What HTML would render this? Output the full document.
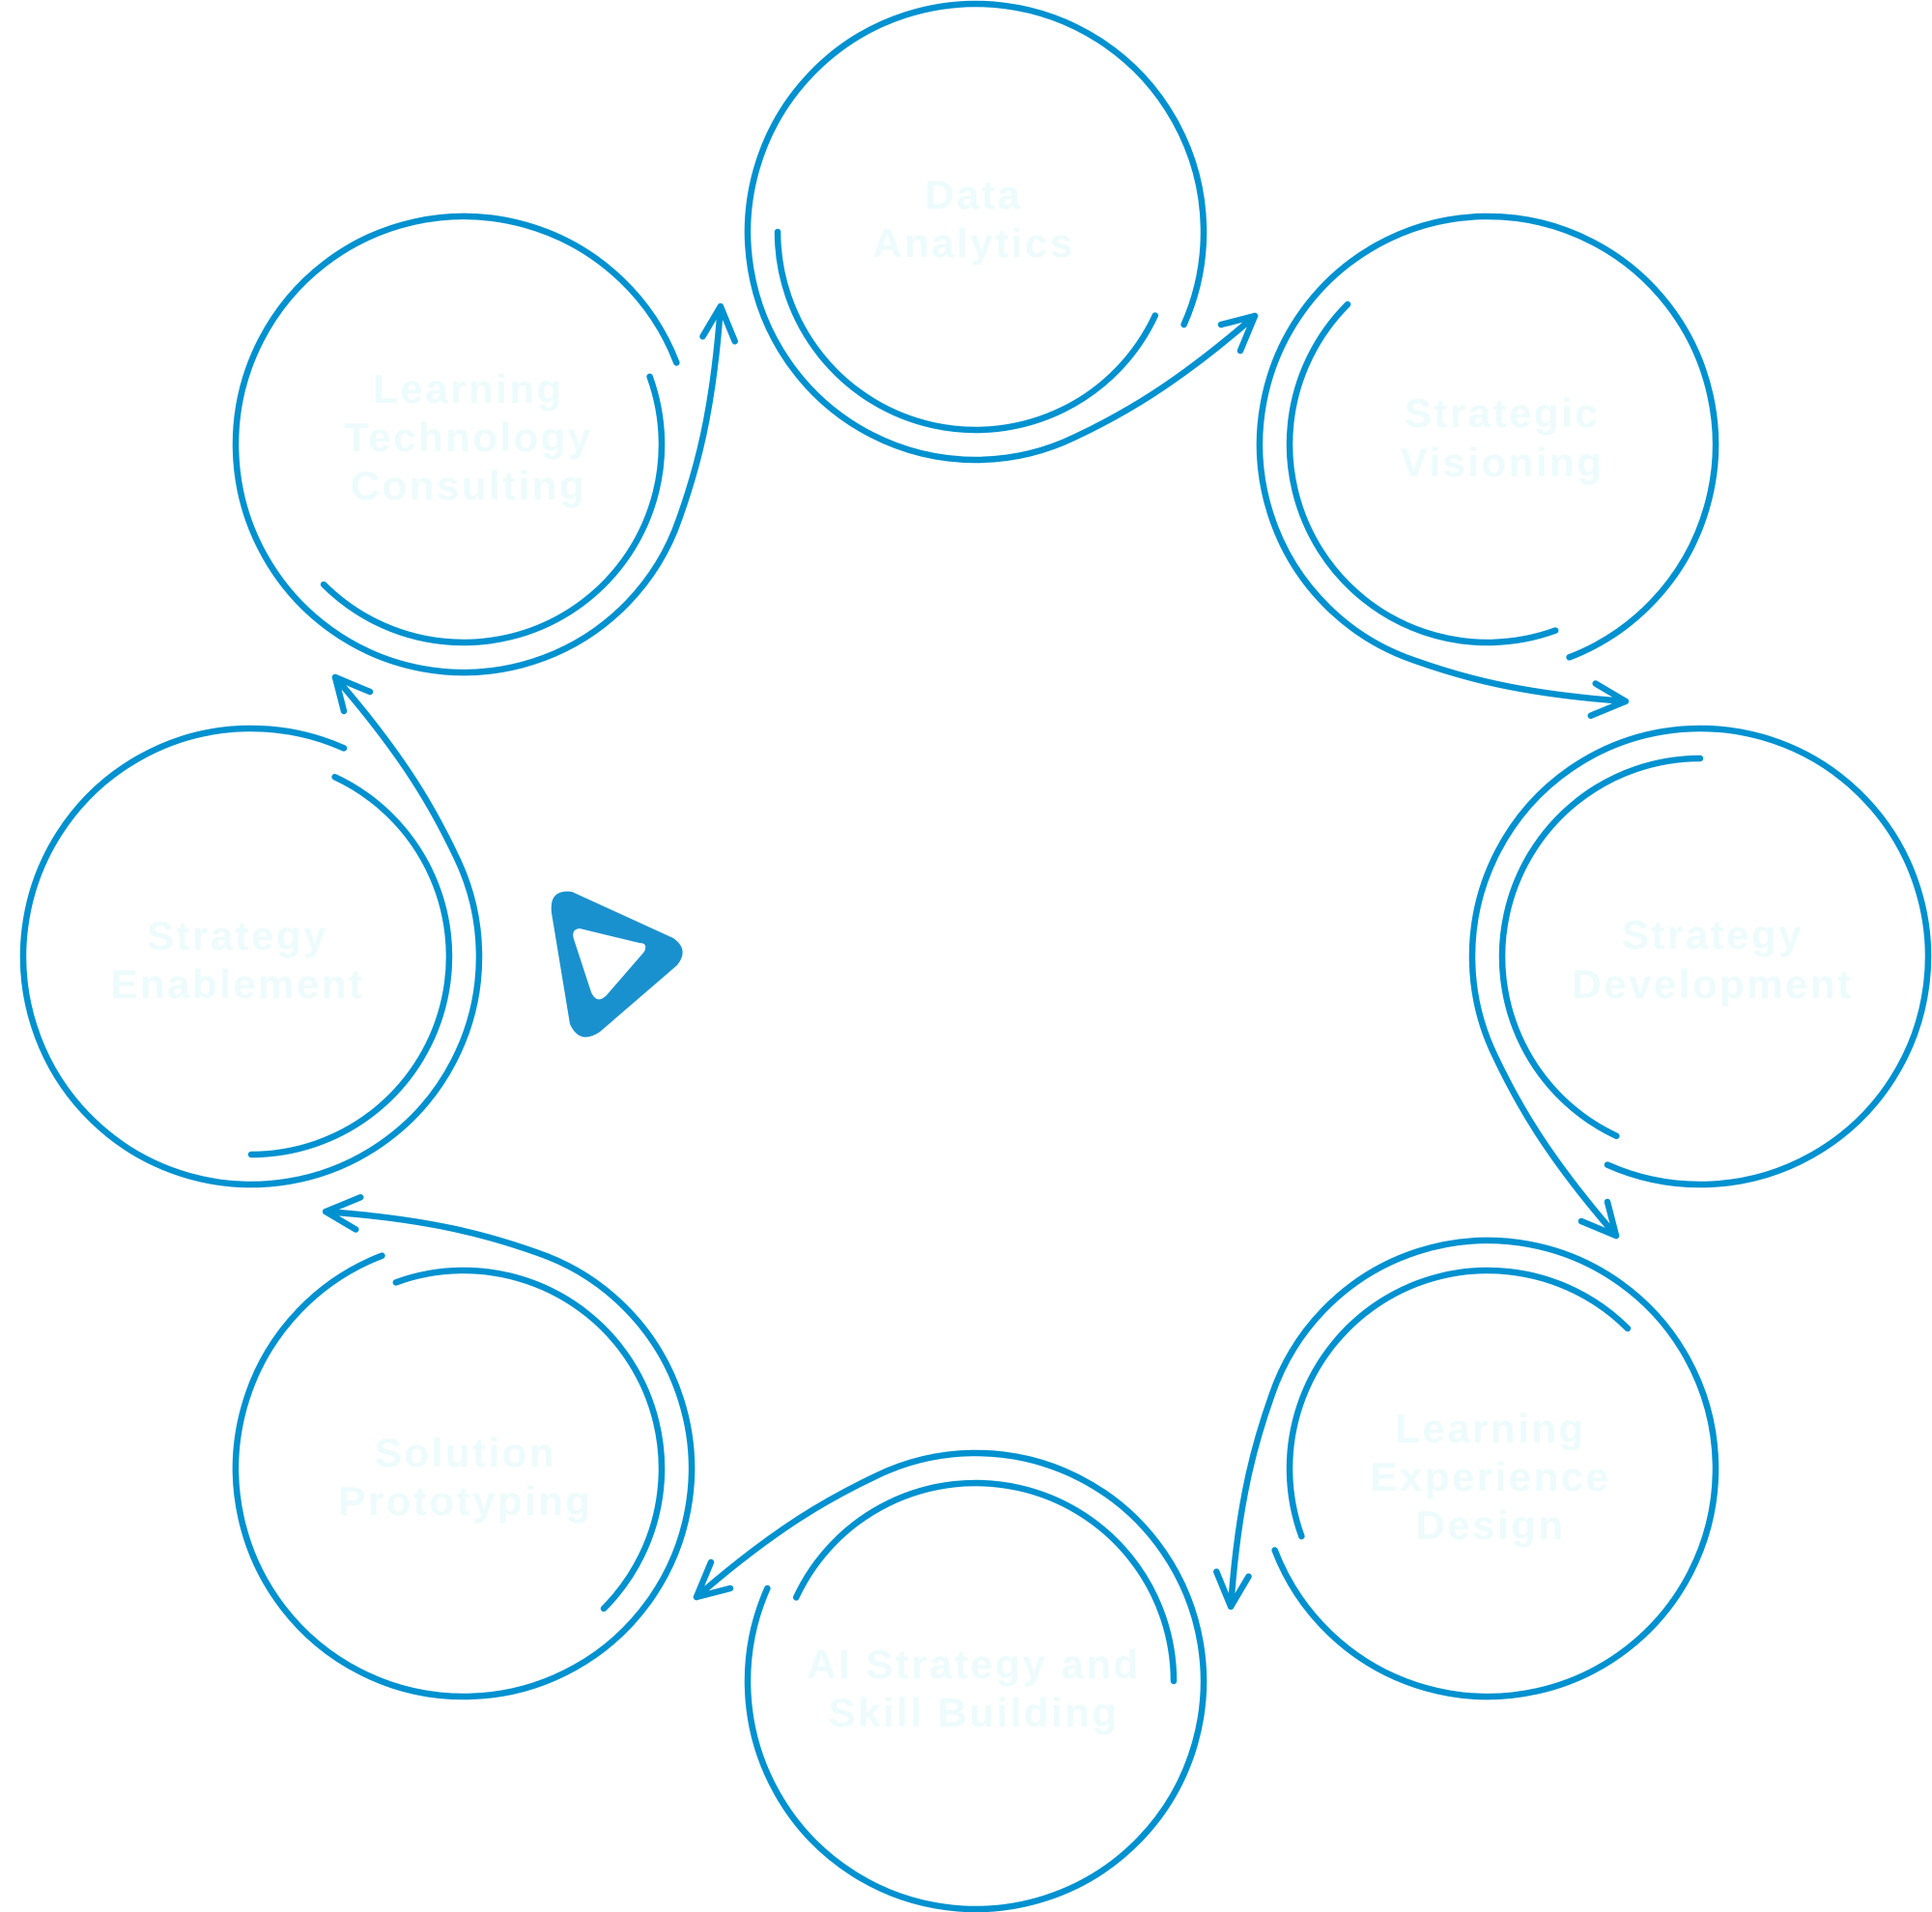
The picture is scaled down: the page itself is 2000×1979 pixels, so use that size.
<!DOCTYPE html>
<html>
<head>
<meta charset="utf-8">
<style>
html,body{margin:0;padding:0;background:#fff;}
svg{display:block;}
text{font-family:"Liberation Sans",sans-serif;font-weight:bold;font-size:42px;fill:#edfbfc;letter-spacing:2.5px;text-anchor:middle;}
</style>
</head>
<body>
<svg width="2000" height="1979" viewBox="0 0 2000 1979" xmlns="http://www.w3.org/2000/svg">
<defs>
<g id="node" fill="none" stroke="#0091d0" stroke-width="6.5" stroke-linecap="round" stroke-linejoin="round">
<path d="M215.6 96 A236 236 0 1 0 103.5 212.1 C150 190 205 160 289 87"/>
<path d="M254 96 L289 87 L274 123"/>
<path d="M-205 0 A205 205 0 0 0 185.8 86.6"/>
</g>
</defs>
<use href="#node" transform="translate(1010,240) rotate(0)"/>
<use href="#node" transform="translate(1540,460) rotate(45)"/>
<use href="#node" transform="translate(1760,990) rotate(90)"/>
<use href="#node" transform="translate(1540,1520) rotate(135)"/>
<use href="#node" transform="translate(1010,1740) rotate(180)"/>
<use href="#node" transform="translate(480,1520) rotate(225)"/>
<use href="#node" transform="translate(260,990) rotate(270)"/>
<use href="#node" transform="translate(480,460) rotate(315)"/>

<text x="1008" y="216">Data</text>
<text x="1008" y="266">Analytics</text>

<text x="1555" y="442">Strategic</text>
<text x="1555" y="493">Visioning</text>

<text x="1773" y="982">Strategy</text>
<text x="1773" y="1033">Development</text>

<text x="1543" y="1493">Learning</text>
<text x="1543" y="1543">Experience</text>
<text x="1543" y="1593">Design</text>

<text x="1008" y="1737">AI Strategy and</text>
<text x="1008" y="1787">Skill Building</text>

<text x="482" y="1518">Solution</text>
<text x="482" y="1568">Prototyping</text>

<text x="246" y="983">Strategy</text>
<text x="246" y="1033">Enablement</text>

<text x="485" y="417">Learning</text>
<text x="485" y="467">Technology</text>
<text x="485" y="517">Consulting</text>

<path fill="#1a91cf" fill-rule="evenodd" d="M571 945 Q568 920 592 923 L697 971 Q714 983 701 999 L621 1068 Q600 1082 590 1060 Z
M600 961 Q591 962 594 972 L612 1027 Q618 1040 628 1030 L667 985 Q671 976 662 976 Z"/>
</svg>
</body>
</html>
